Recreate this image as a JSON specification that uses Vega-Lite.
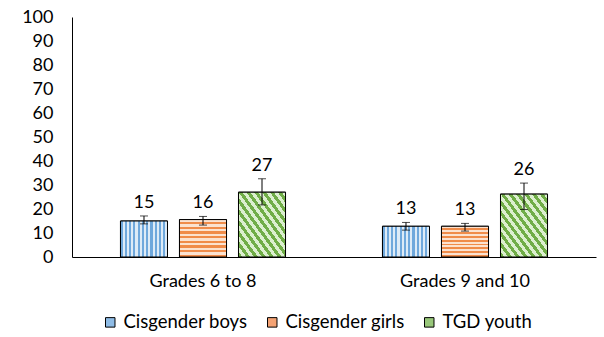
{
  "$schema": "https://vega.github.io/schema/vega-lite/v6.json",
  "width": 524,
  "height": 240,
  "autosize": {"type": "none"},
  "padding": {"left": 72, "top": 17, "right": 8, "bottom": 80},
  "background": "white",
  "config": {
    "font": "Lato",
    "view": {"stroke": null},
    "axis": {"labelFont": "Lato", "labelFontSize": 18, "labelColor": "#000000", "grid": false},
    "axisY": {"labelOverlap": false, "ticks": false, "labelPadding": 19, "domainColor": "#000000", "title": null}
  },
  "data": {
    "values": [
      {"grade": "Grades 6 to 8", "group": "Cisgender boys", "value": 15.0, "lower": 13.8, "upper": 17.1, "label": "15"},
      {"grade": "Grades 6 to 8", "group": "Cisgender girls", "value": 15.6, "lower": 13.3, "upper": 16.9, "label": "16"},
      {"grade": "Grades 6 to 8", "group": "TGD youth", "value": 27.0, "lower": 21.7, "upper": 32.6, "label": "27"},
      {"grade": "Grades 9 and 10", "group": "Cisgender boys", "value": 12.8, "lower": 11.2, "upper": 14.4, "label": "13"},
      {"grade": "Grades 9 and 10", "group": "Cisgender girls", "value": 12.8, "lower": 10.8, "upper": 14.0, "label": "13"},
      {"grade": "Grades 9 and 10", "group": "TGD youth", "value": 26.2, "lower": 19.8, "upper": 30.8, "label": "26"}
    ]
  },
  "encoding": {
    "x": {
      "field": "grade", "type": "nominal", "sort": null,
      "scale": {"paddingInner": 0.37, "paddingOuter": 0.185},
      "axis": {"title": null, "labelAngle": 0, "ticks": false, "domainColor": "#000000", "labelPadding": 15}
    },
    "xOffset": {
      "field": "group", "type": "nominal", "sort": ["Cisgender boys", "Cisgender girls", "TGD youth"],
      "scale": {"paddingInner": 0.203, "paddingOuter": 0}
    }
  },
  "layer": [
    {
      "mark": {"type": "bar", "stroke": "#000000", "strokeWidth": 1},
      "encoding": {
        "y": {
          "field": "value", "type": "quantitative",
          "scale": {"domain": [0, 100], "nice": false},
          "axis": {"title": null, "values": [0,10,20,30,40,50,60,70,80,90,100], "labelOverlap": false}
        },
        "color": {
          "field": "group", "type": "nominal", "sort": ["Cisgender boys", "Cisgender girls", "TGD youth"],
          "scale": {"range": ["#8FBCE6", "#F4A273", "#98C77A"]},
          "legend": {
            "title": null, "orient": "none", "direction": "horizontal",
            "legendX": 29, "legendY": 296,
            "symbolType": "square", "symbolSize": 90, "symbolStrokeColor": "#000000", "symbolStrokeWidth": 1,
            "labelFont": "Lato", "labelFontSize": 18.5, "labelColor": "#000000",
            "columnPadding": 15, "labelOffset": 4
          }
        }
      }
    },
    {
      "transform": [{"filter": "datum.group === 'Cisgender boys'"}],
      "mark": {
        "type": "bar", "stroke": "#000000", "strokeWidth": 1,
        "fill": {
          "gradient": "linear", "x1": 0, "y1": 0, "x2": 1, "y2": 0,
          "stops": [
            {"offset": 0, "color": "#6FA8DC"}, {"offset": 0.0455, "color": "#6FA8DC"}, {"offset": 0.0455, "color": "#DDEBF7"}, {"offset": 0.0909, "color": "#DDEBF7"},
            {"offset": 0.0909, "color": "#6FA8DC"}, {"offset": 0.1364, "color": "#6FA8DC"}, {"offset": 0.1364, "color": "#DDEBF7"}, {"offset": 0.1818, "color": "#DDEBF7"},
            {"offset": 0.1818, "color": "#6FA8DC"}, {"offset": 0.2273, "color": "#6FA8DC"}, {"offset": 0.2273, "color": "#DDEBF7"}, {"offset": 0.2727, "color": "#DDEBF7"},
            {"offset": 0.2727, "color": "#6FA8DC"}, {"offset": 0.3182, "color": "#6FA8DC"}, {"offset": 0.3182, "color": "#DDEBF7"}, {"offset": 0.3636, "color": "#DDEBF7"},
            {"offset": 0.3636, "color": "#6FA8DC"}, {"offset": 0.4091, "color": "#6FA8DC"}, {"offset": 0.4091, "color": "#DDEBF7"}, {"offset": 0.4545, "color": "#DDEBF7"},
            {"offset": 0.4545, "color": "#6FA8DC"}, {"offset": 0.5, "color": "#6FA8DC"}, {"offset": 0.5, "color": "#DDEBF7"}, {"offset": 0.5455, "color": "#DDEBF7"},
            {"offset": 0.5455, "color": "#6FA8DC"}, {"offset": 0.5909, "color": "#6FA8DC"}, {"offset": 0.5909, "color": "#DDEBF7"}, {"offset": 0.6364, "color": "#DDEBF7"},
            {"offset": 0.6364, "color": "#6FA8DC"}, {"offset": 0.6818, "color": "#6FA8DC"}, {"offset": 0.6818, "color": "#DDEBF7"}, {"offset": 0.7273, "color": "#DDEBF7"},
            {"offset": 0.7273, "color": "#6FA8DC"}, {"offset": 0.7727, "color": "#6FA8DC"}, {"offset": 0.7727, "color": "#DDEBF7"}, {"offset": 0.8182, "color": "#DDEBF7"},
            {"offset": 0.8182, "color": "#6FA8DC"}, {"offset": 0.8636, "color": "#6FA8DC"}, {"offset": 0.8636, "color": "#DDEBF7"}, {"offset": 0.9091, "color": "#DDEBF7"},
            {"offset": 0.9091, "color": "#6FA8DC"}, {"offset": 0.9545, "color": "#6FA8DC"}, {"offset": 0.9545, "color": "#DDEBF7"}, {"offset": 1, "color": "#DDEBF7"}
          ]
        }
      },
      "encoding": {"y": {"field": "value", "type": "quantitative", "axis": {"title": null, "values": [0,10,20,30,40,50,60,70,80,90,100], "labelOverlap": false}}}
    },
    {
      "transform": [{"filter": "datum.group === 'Cisgender girls'"}],
      "mark": {
        "type": "bar", "stroke": "#000000", "strokeWidth": 1,
        "fill": {
          "gradient": "linear", "x1": 0, "y1": 0, "x2": 0, "y2": 1,
          "stops": [
            {"offset": 0, "color": "#FBE2D0"}, {"offset": 0.0625, "color": "#FBE2D0"}, {"offset": 0.0625, "color": "#F08C4A"}, {"offset": 0.125, "color": "#F08C4A"},
            {"offset": 0.125, "color": "#FBE2D0"}, {"offset": 0.1875, "color": "#FBE2D0"}, {"offset": 0.1875, "color": "#F08C4A"}, {"offset": 0.25, "color": "#F08C4A"},
            {"offset": 0.25, "color": "#FBE2D0"}, {"offset": 0.3125, "color": "#FBE2D0"}, {"offset": 0.3125, "color": "#F08C4A"}, {"offset": 0.375, "color": "#F08C4A"},
            {"offset": 0.375, "color": "#FBE2D0"}, {"offset": 0.4375, "color": "#FBE2D0"}, {"offset": 0.4375, "color": "#F08C4A"}, {"offset": 0.5, "color": "#F08C4A"},
            {"offset": 0.5, "color": "#FBE2D0"}, {"offset": 0.5625, "color": "#FBE2D0"}, {"offset": 0.5625, "color": "#F08C4A"}, {"offset": 0.625, "color": "#F08C4A"},
            {"offset": 0.625, "color": "#FBE2D0"}, {"offset": 0.6875, "color": "#FBE2D0"}, {"offset": 0.6875, "color": "#F08C4A"}, {"offset": 0.75, "color": "#F08C4A"},
            {"offset": 0.75, "color": "#FBE2D0"}, {"offset": 0.8125, "color": "#FBE2D0"}, {"offset": 0.8125, "color": "#F08C4A"}, {"offset": 0.875, "color": "#F08C4A"},
            {"offset": 0.875, "color": "#FBE2D0"}, {"offset": 0.9375, "color": "#FBE2D0"}, {"offset": 0.9375, "color": "#F08C4A"}, {"offset": 1, "color": "#F08C4A"}
          ]
        }
      },
      "encoding": {"y": {"field": "value", "type": "quantitative", "axis": {"title": null, "values": [0,10,20,30,40,50,60,70,80,90,100], "labelOverlap": false}}}
    },
    {
      "transform": [{"filter": "datum.group === 'TGD youth'"}],
      "mark": {
        "type": "bar", "stroke": "#000000", "strokeWidth": 1,
        "fill": {
          "gradient": "linear", "x1": 0, "y1": 1, "x2": 1, "y2": 0,
          "stops": [
            {"offset": 0, "color": "#70AD47"}, {"offset": 0.0417, "color": "#70AD47"}, {"offset": 0.0417, "color": "#DCEFCF"}, {"offset": 0.0833, "color": "#DCEFCF"},
            {"offset": 0.0833, "color": "#70AD47"}, {"offset": 0.125, "color": "#70AD47"}, {"offset": 0.125, "color": "#DCEFCF"}, {"offset": 0.1667, "color": "#DCEFCF"},
            {"offset": 0.1667, "color": "#70AD47"}, {"offset": 0.2083, "color": "#70AD47"}, {"offset": 0.2083, "color": "#DCEFCF"}, {"offset": 0.25, "color": "#DCEFCF"},
            {"offset": 0.25, "color": "#70AD47"}, {"offset": 0.2917, "color": "#70AD47"}, {"offset": 0.2917, "color": "#DCEFCF"}, {"offset": 0.3333, "color": "#DCEFCF"},
            {"offset": 0.3333, "color": "#70AD47"}, {"offset": 0.375, "color": "#70AD47"}, {"offset": 0.375, "color": "#DCEFCF"}, {"offset": 0.4167, "color": "#DCEFCF"},
            {"offset": 0.4167, "color": "#70AD47"}, {"offset": 0.4583, "color": "#70AD47"}, {"offset": 0.4583, "color": "#DCEFCF"}, {"offset": 0.5, "color": "#DCEFCF"},
            {"offset": 0.5, "color": "#70AD47"}, {"offset": 0.5417, "color": "#70AD47"}, {"offset": 0.5417, "color": "#DCEFCF"}, {"offset": 0.5833, "color": "#DCEFCF"},
            {"offset": 0.5833, "color": "#70AD47"}, {"offset": 0.625, "color": "#70AD47"}, {"offset": 0.625, "color": "#DCEFCF"}, {"offset": 0.6667, "color": "#DCEFCF"},
            {"offset": 0.6667, "color": "#70AD47"}, {"offset": 0.7083, "color": "#70AD47"}, {"offset": 0.7083, "color": "#DCEFCF"}, {"offset": 0.75, "color": "#DCEFCF"},
            {"offset": 0.75, "color": "#70AD47"}, {"offset": 0.7917, "color": "#70AD47"}, {"offset": 0.7917, "color": "#DCEFCF"}, {"offset": 0.8333, "color": "#DCEFCF"},
            {"offset": 0.8333, "color": "#70AD47"}, {"offset": 0.875, "color": "#70AD47"}, {"offset": 0.875, "color": "#DCEFCF"}, {"offset": 0.9167, "color": "#DCEFCF"},
            {"offset": 0.9167, "color": "#70AD47"}, {"offset": 0.9583, "color": "#70AD47"}, {"offset": 0.9583, "color": "#DCEFCF"}, {"offset": 1, "color": "#DCEFCF"}
          ]
        }
      },
      "encoding": {"y": {"field": "value", "type": "quantitative", "axis": {"title": null, "values": [0,10,20,30,40,50,60,70,80,90,100], "labelOverlap": false}}}
    },
    {
      "mark": {"type": "rule", "color": "#000000", "strokeWidth": 1},
      "encoding": {
        "y": {"field": "lower", "type": "quantitative", "axis": {"title": null, "values": [0,10,20,30,40,50,60,70,80,90,100], "labelOverlap": false}},
        "y2": {"field": "upper"}
      }
    },
    {
      "mark": {"type": "tick", "color": "#000000", "thickness": 1, "size": 8, "orient": "horizontal"},
      "encoding": {"y": {"field": "lower", "type": "quantitative", "axis": {"title": null, "values": [0,10,20,30,40,50,60,70,80,90,100], "labelOverlap": false}}}
    },
    {
      "mark": {"type": "tick", "color": "#000000", "thickness": 1, "size": 8, "orient": "horizontal"},
      "encoding": {"y": {"field": "upper", "type": "quantitative", "axis": {"title": null, "values": [0,10,20,30,40,50,60,70,80,90,100], "labelOverlap": false}}}
    },
    {
      "mark": {"type": "text", "baseline": "bottom", "dy": -4, "fontSize": 18, "font": "Lato", "color": "#000000"},
      "encoding": {
        "y": {"field": "upper", "type": "quantitative", "axis": {"title": null, "values": [0,10,20,30,40,50,60,70,80,90,100], "labelOverlap": false}},
        "text": {"field": "label"}
      }
    }
  ]
}
